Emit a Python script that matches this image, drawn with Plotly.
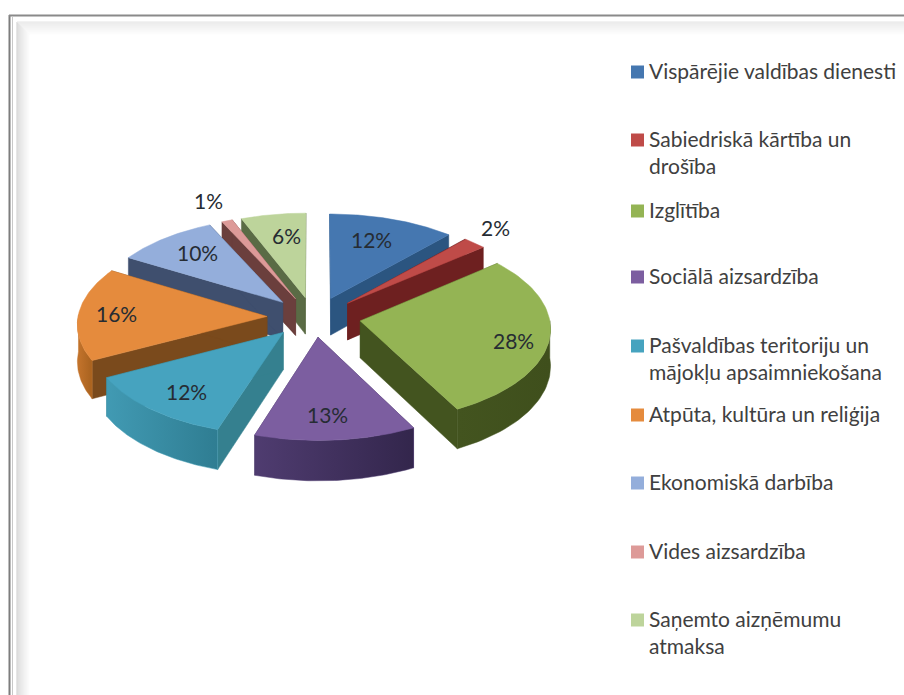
import numpy as np
import plotly.graph_objects as go

# ---------- data ----------
CATEGORIES = ["Vispārējie valdības dienesti", "Sabiedriskā kārtība un<br>drošība", "Izglītība",
              "Sociālā aizsardzība", "Pašvaldības teritoriju un<br>mājokļu apsaimniekošana",
              "Atpūta, kultūra un reliģija", "Ekonomiskā darbība", "Vides aizsardzība",
              "Saņemto aizņēmumu<br>atmaksa"]
SHARES = [11.7, 2.2, 28.4, 12.7, 12.4, 16.1, 9.5, 1.0, 6.0]

# ---------- styles ----------
TOP = ["#4577b0", "#bf4b48", "#94b454", "#7c5ea0", "#46a3bf", "#e58b3d", "#94aedb", "#dd9a98", "#bdd49b"]
FACE = ["#2b5580", "#6e2020", "#43541f", "#3f2f5c", "#35808f", "#7a4a1c", "#3f4f6e", "#6b3f3d", "#5a6b45"]
BAND_L = ["#2b5580", "#6e2020", "#43541f", "#4f3c70", "#419ab3", "#c4742c", "#3f4f6e", "#6b3f3d", "#5a6b45"]
BAND_R = ["#2b5580", "#6e2020", "#3f4f1c", "#33264c", "#2f7d92", "#a8621f", "#3f4f6e", "#6b3f3d", "#5a6b45"]
LABEL_POS = [(371, 239), (495, 227), (513, 340), (327, 414), (186, 391), (116, 313), (197, 252), (208, 200), (286, 235)]
LEGEND_Y = [72, 140, 211, 277, 346, 415, 483, 552, 620]
FONT = "Lato, Carlito, 'Noto Sans', sans-serif"
CX, CY, RX, RY, EX, EY, DEPTH, PERSP = 314, 317, 189, 93, 47, 20, 37, 0.07


def project(u, v, drop=0.0):
    """u, v in pie-plane units (radius 1); returns picture coordinates."""
    s = 1 / (1 + PERSP * v)
    return CX + RX * u * s, CY - RY * v * s + drop * s


def poly(fig, xs, ys, color, grad=None):
    kw = dict(fillcolor=color)
    if grad:
        kw = dict(fillgradient=dict(type="horizontal", colorscale=[[0, grad[0]], [1, grad[1]]]))
    fig.add_trace(go.Scatter(x=xs, y=ys, mode="lines", fill="toself", line=dict(width=0.5, color=color),
                             hoverinfo="skip", showlegend=False, **kw))


fig = go.Figure()
edges = np.cumsum([0] + SHARES) / sum(SHARES) * 2 * np.pi
mids = (edges[:-1] + edges[1:]) / 2
order = np.argsort(-np.cos(mids))  # back to front

for i in order:
    t0, t1, m = edges[i], edges[i + 1], mids[i]
    ou, ov = np.sin(m) * EX / RX, np.cos(m) * EY / RY
    ts = np.linspace(t0, t1, 60)
    au, av = ou + np.sin(ts), ov + np.cos(ts)
    for t in (t0, t1):
        pu, pv = ou + np.sin(t), ov + np.cos(t)
        x0, y0 = project(ou, ov)
        x1, y1 = project(pu, pv)
        x2, y2 = project(pu, pv, DEPTH)
        x3, y3 = project(ou, ov, DEPTH)
        poly(fig, [x0, x1, x2, x3, x0], [y0, y1, y2, y3, y0], FACE[i])
    mask = np.cos(ts) <= 0.02
    if mask.sum() > 1:
        bx0, by0 = project(au[mask], av[mask])
        bx1, by1 = project(au[mask], av[mask], DEPTH)
        poly(fig, np.r_[bx0, bx1[::-1], bx0[0]], np.r_[by0, by1[::-1], by0[0]], BAND_L[i], (BAND_L[i], BAND_R[i]))
    tx, ty = project(np.r_[ou, au, ou], np.r_[ov, av, ov])
    poly(fig, tx, ty, TOP[i])

# legend swatches
fig.add_trace(go.Scatter(x=[637.5] * len(TOP), y=LEGEND_Y, mode="markers", hoverinfo="skip", showlegend=False,
                         marker=dict(symbol="square", size=13, color=TOP, line=dict(width=0))))

annotations = []
for name, y in zip(CATEGORIES, LEGEND_Y):
    annotations.append(dict(x=647, y=y - 16, xref="x", yref="y", text=name, showarrow=False, xanchor="left",
                            yanchor="top", align="left", font=dict(family=FONT, size=21, color="#404040")))
for share, (x, y) in zip(SHARES, LABEL_POS):
    annotations.append(dict(x=x, y=y, xref="x", yref="y", text=f"{share:.0f}%", showarrow=False,
                            font=dict(family=FONT, size=21, color="#262c33")))

# chart frame with its soft inner shadow
shapes = []
for k in range(14):
    g = int(205 + 50 * (k / 13) ** 0.8)
    c = f"rgb({g},{g},{g})"
    shapes.append(dict(type="line", x0=17 + k, x1=17 + k, y0=22 + k, y1=695, line=dict(color=c, width=1), layer="below"))
    g2 = int(228 + 27 * (k / 13))
    c2 = f"rgb({g2},{g2},{g2})"
    shapes.append(dict(type="line", x0=17 + k, x1=904, y0=22 + k, y1=22 + k, line=dict(color=c2, width=1), layer="below"))
shapes += [
    dict(type="line", x0=9.5, x1=9.5, y0=15, y1=695, line=dict(color="#7d7d7d", width=2), layer="below"),
    dict(type="line", x0=9, x1=904, y0=15.5, y1=15.5, line=dict(color="#8a8a8a", width=2), layer="below"),
    dict(type="line", x0=12.5, x1=12.5, y0=17, y1=695, line=dict(color="#c8c8c8", width=1), layer="below"),
]

fig.update_layout(width=904, height=695, margin=dict(l=0, r=0, t=0, b=0), paper_bgcolor="white", plot_bgcolor="white",
                  showlegend=False, annotations=annotations, shapes=shapes,
                  xaxis=dict(range=[0, 904], visible=False, fixedrange=True),
                  yaxis=dict(range=[695, 0], visible=False, fixedrange=True))
fig.write_html("out.html", config=dict(displayModeBar=False),
               post_script="document.body.style.margin='0';")
